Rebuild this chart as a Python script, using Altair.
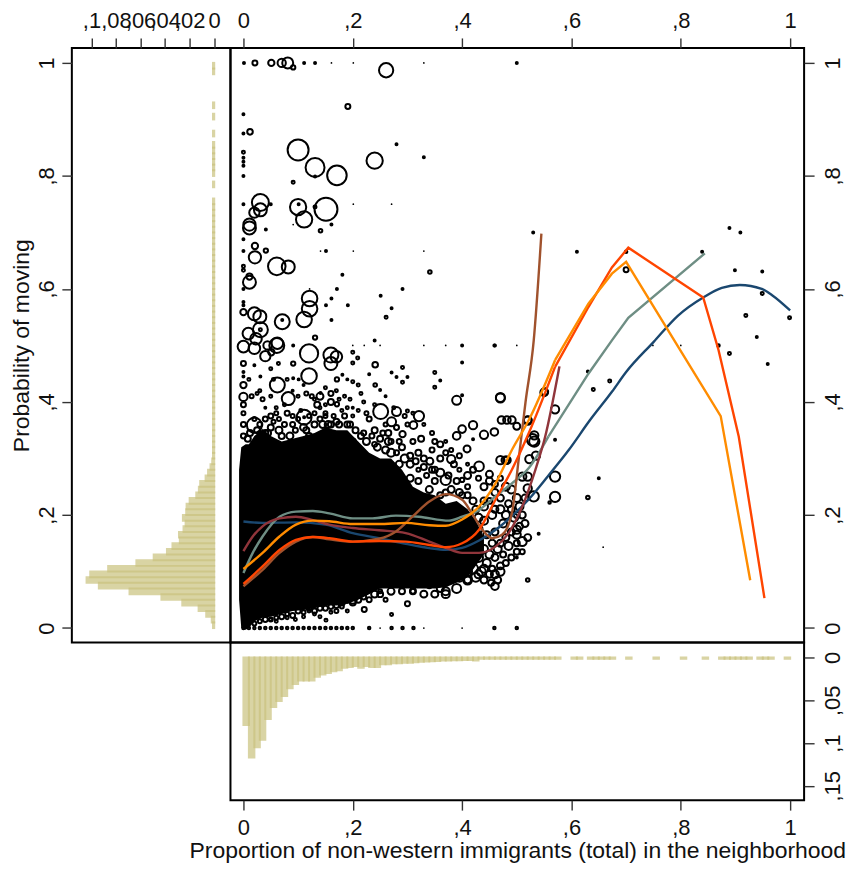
import altair as alt
import pandas as pd

# --- dense cloud envelope: x, low, high
cloud = [(-.008,.05,.28),(-.004,.0,.32),(.004,-.003,.325),(.01,.0,.325),(.02,.012,.34),(.035,.018,.352),
(.05,.02,.34),(.07,.025,.33),(.09,.03,.335),(.11,.032,.34),(.13,.035,.345),(.15,.04,.355),(.17,.04,.35),
(.19,.043,.35),(.21,.05,.33),(.23,.06,.31),(.25,.07,.30),(.27,.07,.30),(.29,.07,.28),(.31,.07,.25),
(.33,.07,.24),(.35,.07,.235),(.37,.072,.22),(.39,.08,.225),(.41,.09,.21),(.425,.11,.19),(.44,.13,.16)]

# --- individual neighbourhoods: x, y, marker diameter
top_rows = [(.001,1,2),(.021,1,5),(.051,1,6.3),(.070,1,8.3),(.081,1,11),(.091,.992,4.3),(.111,1,2),(.131,1,2),
(.261,.987,14.3),(.191,.923,5),(0,.909,2),(.012,.878,5.6),(0,.875,2),(.280,.856,2),(0,.842,3),(0,.832,2),(0,.825,2),
(0,.818,2),(.100,.846,21),(.131,.815,19),(.171,.801,19.6),(.240,.827,16.3),(.330,.833,2),(.5,1,2),(0,.800,2),
(.091,.789,3),(.131,.799,2),(0,.750,2),(.031,.753,17),(.050,.750,2),(.031,.740,13),(.020,.735,10.3),(.100,.745,16.3),
(.101,.750,2),(.131,.745,3),(.151,.741,23),(.111,.723,16.3),(.011,.714,12.3),(.011,.708,13),(.041,.705,2),(.161,.714,2),
(.141,.703,3.6),(0,.688,2),(.021,.676,6.3),(.041,.668,4.3),(0,.667,2),(.151,.667,2),(.021,.656,12.3),(.061,.640,17.6),
(.082,.639,13),(0,.640,3),(0,.633,3),(.341,.630,3.6),(.181,.625,2),(.011,.622,6.3),(.011,.612,13),(0,.600,2),(.171,.600,2),
(.291,.600,2),(.251,.588,2),(.161,.583,2),(.121,.583,15.6),(.121,.565,15.6),(.111,.546,15.6),(.151,.571,2),(.191,.571,2),
(.271,.566,2),(.261,.550,3),(.161,.545,2),(.071,.542,15),(.071,.545,2),(0,.577,2),(0,.571,2),(0,.559,6.3),(.020,.556,13),
(.030,.551,13),(.031,.528,15),(.031,.528,3),(.009,.521,11.6),(.023,.512,11.6),(.044,.5,8.3),(.061,.5,15),(.131,.514,4.3),(.240,.509,2)]

mid_rows = [(0,.498,11.6),(.02,.495,11.6),(.04,.481,10.3),(.051,.488,6.3),(.062,.504,11.6),(.064,.468,3),(.12,.486,18.3),
(.16,.483,15),(.17,.48,11.6),(.16,.468,13),(.2,.488,3),(.209,.478,3),(.2,.469,3),(.241,.466,5.6),(.291,.461,3),
(.35,.452,3),(.271,.452,2),(.28,.444,2),(.3,.444,2),(.291,.435,3),(.23,.449,2),(.35,.426,3),(.36,.438,2),(.241,.43,3.6),
(.25,.421,2),(.4,.47,2),(.12,.446,15.6),(.091,.468,4.3),(.031,.445,2),(.02,.465,2),(.05,.459,3),(.062,.43,15),(.082,.406,13),
(.11,.43,2),(.091,.442,2),(.101,.44,2),(.171,.44,4.3),(.181,.448,2),(.19,.44,2),(.2,.436,3),(.21,.43,3),(.15,.425,3),
(.141,.416,2),(0,.468,5),(0,.453,2),(0,.445,2),(0,.43,6.3),(0,.409,8.3),(.02,.359,15),(.111,.373,15),(.111,.373,2),
(.251,.383,15),(.271,.365,9),(.28,.383,9),(.321,.375,10.3),(.311,.359,7.6),(.291,.343,6.3),(.3,.384,3),(.22,.4,3),(.2,.39,2),
(.171,.396,4.3),(.39,.403,9),(.47,.407,9),(.4,.412,2),(.551,.418,7),(.42,.359,8.3),(.4,.352,7.6),(.39,.34,7.6),(.44,.342,8.3),
(.459,.347,7.6),(.472,.368,7.6),(.482,.368,7.6),(.491,.368,7.6),(.5,.357,7),(.52,.368,7.6),(.42,.334,2),(.409,.317,7),
(.529,.333,11.6),(.431,.286,9.6),(.45,.272,7),(.47,.297,8.3),(.482,.297,7.6),(.4,.262,4.3),(.37,.262,10.3),(.38,.299,8.3),
(.341,.295,7),(.09,.42,2),(.13,.405,3),(.14,.41,7),(.16,.4,6),(.175,.405,3),(.075,.395,3),(.06,.39,3),(.04,.39,2),(.025,.415,3),
(.065,.37,4),(.09,.375,4),(.105,.385,3),(.14,.39,3),(.15,.375,4),(.18,.385,3),(.2,.375,3),(.23,.37,5),(.21,.385,3),(.24,.35,6),
(.26,.36,4),(.3,.36,4),(.29,.32,6),(.31,.33,5),(.32,.31,6),(.33,.3,6),(.36,.3,6),(.345,.315,5),(.37,.33,3),(.38,.315,4),(.27,.33,5),
(.25,.335,6),(.24,.325,5),(.305,.305,6),(.28,.31,5),(.35,.28,6),(.335,.27,5),(.32,.28,4),(.39,.26,6),(.41,.25,5),(.44,.25,7),(.46,.24,7),
(.48,.25,8),(.35,.26,6),(.37,.24,6),(.4,.235,6),(.42,.225,7),(.44,.225,7)]

upper_scatter = [(.01,.44,3),(.015,.41,4),(.03,.42,3),(.035,.405,4),(.05,.41,3),(.055,.44,3),(.08,.44,3),(.1,.41,3),(.115,.415,4),(.125,.41,4),
(.135,.395,6),(.15,.395,3),(.16,.415,5),(.17,.42,3),(.185,.41,3),(.195,.405,3),(.215,.415,3),(.225,.38,4),(.24,.395,3),(.26,.41,2),(.275,.39,3),
(.28,.355,5),(.265,.345,6),(.295,.375,4),(.31,.38,3),(.33,.36,3),(.345,.345,4),(.325,.335,6),(.35,.33,5),(.36,.325,6),(.37,.31,5),(.385,.29,6),
(.395,.305,5),(.41,.29,3),(.42,.28,6),(.395,.28,4),(.41,.27,7),(.43,.265,5),(.45,.26,7),(.46,.255,6),(.47,.265,5),(.05,.375,5),(.08,.38,5),
(.12,.375,4),(.16,.36,6),(.13,.38,4),(.19,.39,3),(.04,.345,6),(.055,.365,4)]

right_cluster = [(.44,.215,8),(.45,.225,6),(.46,.21,7),(.48,.2,8),(.49,.21,7),(.5,.2,6),(.515,.23,7),(.515,.185,7),(.52,.16,7),(.5,.165,8),(.48,.16,7),
(.465,.14,8),(.45,.13,8),(.5,.135,6),(.47,.11,7),(.455,.105,6),(.44,.105,8),(.425,.09,9),(.41,.1,9),(.48,.115,6),(.46,.095,8)]

edge_top = [(0,.34,5),(0,.36,5),(0,.38,4),(0,.395,5),(.012,.345,6),(.02,.37,4),(.03,.36,5),(.04,.37,5),(.05,.355,6),(.06,.38,4),
(.065,.35,7),(.075,.36,5),(.085,.34,7),(.095,.35,5),(.10,.37,4),(.11,.355,7),(.12,.34,6),(.13,.36,6),(.14,.37,5),(.15,.38,4),
(.155,.36,7),(.165,.375,4),(.175,.36,6),(.185,.375,5),(.195,.36,6),(.205,.35,6),(.2,.33,6),(.215,.34,6),(.225,.33,7),(.235,.34,5),
(.245,.32,7),(.255,.345,5),(.265,.33,7),(.27,.31,8),(.285,.33,5),(.295,.3,8),(.305,.29,7),(.315,.295,6),(.33,.285,6),(.345,.28,6),
(.36,.275,8),(.375,.27,6),(.305,.265,7),(.32,.26,6),(.34,.245,7),(.36,.235,6),(.38,.245,7),(.395,.24,7),(.41,.235,6),(.425,.21,7),(.43,.195,8),
(.008,.335,6),(.025,.35,6),(.045,.345,6),(.07,.34,6),(.09,.36,5),(.115,.35,6),(.145,.36,7),(.17,.365,6),(.19,.36,6),(.22,.345,5),(.26,.315,7),(.285,.29,7)]

edge_bottom = [(.02,.008,4),(.03,.012,4),(.04,.015,5),(.05,.015,4),(.06,.018,4),(.07,.02,5),(.08,.025,4),(.09,.022,5),(.1,.03,5),(.11,.028,4),
(.12,.035,5),(.13,.03,5),(.14,.035,5),(.15,.035,5),(.16,.038,5),(.17,.04,5),(.18,.045,6),(.19,.05,6),(.2,.045,6),(.21,.05,6),(.22,.055,5),
(.23,.05,5),(.24,.06,7),(.25,.06,6),(.27,.065,7),(.29,.065,6),(.31,.065,6),(.33,.06,7),(.35,.06,7),(.37,.065,8),(.39,.07,9),(.41,.085,9),(.43,.095,8)]

right_rows = [(.530,.700,2),(.61,.666,2),(.7,.666,2.5),(.7,.634,5),(.839,.666,2),(.889,.708,2),(.909,.7,2),(.899,.633,2),(.949,.631,2),
(.949,.592,3),(.919,.553,3),(.999,.549,3),(.939,.515,2),(.869,.5,2.5),(.889,.486,3),(.959,.467,2),(.46,.5,2),(.63,.454,2),(.67,.437,3),
(.64,.422,3),(.47,.408,9),(.55,.417,7.6),(.57,.387,8.3),(.57,.333,2),(.57,.268,10.3),(.57,.232,10.3),(.63,.231,3.6),(.65,.265,2),
(.56,.222,2.5),(.54,.167,2),(.51,.153,9),(.5,.174,8.3),(.5,.125,2),(.52,.085,3.6),(.47,.1,8.3),(.46,.074,7.6),(.531,.233,10.3),
(.523,.299,8.3),(.535,.305,8.3),(.532,.341,8.3),(.532,.33,10.3),(.52,.367,8.3),(.52,.268,8.3),(.52,.247,8.3),(.51,.268,8.3),
(.479,.297,7.6),(.49,.245,8),(.5,.23,8),(.505,.215,8),(.47,.23,7),(.455,.2,8),(.47,.21,8),(.485,.22,7),(.495,.195,8),(.51,.2,7),
(.44,.19,8),(.46,.17,7),(.475,.185,8),(.49,.17,7),(.505,.18,7),(.445,.165,7),(.43,.175,8),(.44,.14,8),(.455,.15,7),(.47,.15,7),(.485,.145,8),
(.5,.15,6),(.43,.125,9),(.445,.115,8),(.46,.125,7),(.475,.13,6),(.49,.125,6),(.42,.105,10),(.435,.1,9),(.45,.095,7),(.465,.085,7),
(.395,.09,9),(.41,.085,7),(.38,.095,8),(.44,.085,7),(.453,.08,6),(.51,.135,5),(.36,.07,7),(.34,.075,5),(.37,.06,8),(.31,.065,5),(.3,.043,5),
(.271,.024,3),(.221,.033,5),(.2,.05,8),(.151,.014,3),(.14,.02,3),(.17,.03,4),(.16,.028,3),(.13,.025,3),(.11,.02,3),(.095,.015,3),(.08,.018,3),
(.25,.065,4),(.26,.05,4),(.24,.07,3),(.19,.03,3),(.18,.038,4),(.12,.03,3),(.06,.012,3),(.05,.015,3)]

bottom_row = [.0,.01,.02,.03,.04,.05,.06,.07,.08,.09,.10,.11,.12,.13,.14,.15,.16,.17,.18,.19,.20,.23,.271,.291,.311,.459,.5]
row_05 = [.091,.4,.459]
tiny_pts = [(.161,1),(.201,1),(.330,1),(.201,.75),(.271,.75),(.091,.714),(.141,.667),(.201,.667),(.330,.667),(.5,.5),(.749,.5),(.8,.5),
(.658,.143),(.25,0),(.33,0),(.4,0),(.2,.5),(.221,.5),(.25,.5),(.33,.5),(.37,.5),(.121,.6)]

# --- fitted curves: smooth part, then the sparse part that joins single observations
navy = [(0,.1886),(.035,.186),(.096,.187),(.15,.183),(.2,.168),(.248,.159),(.297,.149),(.34,.1415),(.37,.1385),(.4,.142),(.431,.155),(.467,.178),(.491,.198),(.522,.228),(.558,.27),(.595,.315),(.634,.368),(.674,.418),(.7,.453),(.75,.506),(.795,.553),(.841,.585),(.875,.602),(.908,.607),(.948,.6),(.967,.589),(1.0,.562)]
teal = [(0,.0974),(.017,.133),(.035,.162),(.066,.197),(.096,.206),(.127,.207),(.157,.203),(.2,.194),(.236,.194),(.279,.199),(.321,.197),(.376,.19),(.4,.197),(.431,.209),(.461,.233),(.491,.256),(.522,.283),(.558,.339)]
teal_far = [(.558,.339),(.631,.45),(.674,.509),(.704,.549),(.844,.663)]
maroon = [(0,.136),(.017,.162),(.035,.18),(.066,.194),(.096,.197),(.127,.191),(.157,.183),(.2,.177),(.248,.173),(.297,.168),(.34,.153),(.37,.142),(.4,.133),(.431,.133),(.461,.144),(.485,.168),(.51,.215),(.534,.28),(.552,.339),(.578,.463)]
sienna = [(0,.074),(.035,.103),(.066,.133),(.096,.153),(.127,.161),(.157,.157),(.2,.153),(.248,.158),(.279,.171),(.309,.197),(.34,.224),(.37,.237),(.4,.227),(.418,.203),(.437,.174),(.455,.159),(.473,.165),(.491,.203),(.504,.303),(.516,.4),(.531,.509),(.545,.698)]
orangered = [(0,.078),(.035,.109),(.066,.138),(.096,.156),(.127,.161),(.157,.159),(.2,.153),(.248,.154),(.297,.153),(.34,.147),(.37,.143),(.4,.15),(.431,.174),(.461,.227),(.491,.28),(.522,.345),(.57,.462)]
orangered_far = [(.57,.462),(.631,.568),(.674,.638),(.704,.673),(.841,.585),(.869,.492),(.906,.339),(.953,.053)]
orange = [(0,.1045),(.035,.133),(.066,.162),(.096,.183),(.127,.19),(.157,.189),(.2,.184),(.248,.184),(.297,.186),(.34,.182),(.37,.181),(.4,.192),(.431,.215),(.461,.256),(.491,.315),(.522,.368),(.57,.474)]
orange_far = [(.57,.474),(.631,.574),(.674,.627),(.7,.648),(.873,.375),(.927,.0845)]

# --- marginal histograms: bin start, density
left_low = [0,.01,.02,.03,.04,.05,.06,.07,.08,.09,.10,.11,.12,.13,.14,.15,.16,.17,.18,.19,.20,.21,.22,.23,.24,.25,.26,.27,.28,.29,.30,.31]
left_freq = [.001,.002,.0065,.0127,.026,.043,.069,.094,.104,.101,.0864,.0634,.0493,.0385,.034,.028,.0287,.025,.0233,.0255,.0228,.0225,.02,.0146,.0125,.0114,.007,.005,.003,.0016,.001,.001]
left_thin = [.32,.33,.34,.35,.36,.37,.38,.39,.40,.41,.42,.43,.44,.45,.46,.47,.48,.49,.50,.51,.52,.53,.54,.55,.56,.57,.58,.59,.60,.61,.62,.63,.64,.65,.66,.67,.68,.69,.70,.71,.72,.73,.74,.75,.78,.80,.81,.82,.83,.84,.85,.87,.90,.92,.98,.99]
bot_low = [0,.01,.02,.03,.04,.05,.06,.07,.08,.09,.10,.11,.12,.13,.14,.15,.16,.17,.18,.19,.20,.21,.22,.23,.24,.25,.26,.27,.28,.29,.30,.31,.32,.33,.34,.35,.36,.37,.38,.39,.40,.41,.42]
bot_freq = [.079,.117,.105,.096,.072,.058,.051,.045,.036,.031,.027,.027,.027,.0225,.020,.018,.016,.015,.012,.011,.010,.012,.010,.011,.011,.008,.008,.0066,.0066,.0062,.0062,.0055,.005,.0047,.0043,.004,.0035,.0035,.0033,.0033,.003,.003,.0035]
bot_thin = [.43,.44,.45,.46,.47,.48,.49,.50,.51,.52,.53,.54,.55,.56,.57,.60,.61,.63,.64,.65,.66,.67,.70,.75,.80,.84,.87,.88,.89,.90,.91,.92,.94,.95,.96,.99]

XD = [-.02372, 1.02555]
YD = [-.0256, 1.0265]
FONT = "Liberation Sans"
KHAKI = "#cac27e"
comma = "replace(toString(datum.value), '0.', ',')"

def ax(**k):
    base = dict(labelExpr=comma, labelFont=FONT, labelFontSize=22, labelColor="#111111", tickSize=10, tickWidth=1.4,
                tickColor="#333333", grid=False, domain=False, labelPadding=5, labelFlush=False, labelOverlap=False)
    base.update(k)
    return alt.Axis(**base)

yt = [0, .2, .4, .6, .8, 1]
sx = alt.Scale(domain=XD, nice=False, zero=False)
sy = alt.Scale(domain=YD, nice=False, zero=False)

# main panel
pts = pd.DataFrame(top_rows + mid_rows + upper_scatter + right_cluster + edge_top + edge_bottom + right_rows +
                   [(v, 0, 2.5) for v in bottom_row] + [(v, .5, 2) for v in row_05], columns=["x", "y", "d"])
pts["size"] = pts.d ** 2
tiny = pd.DataFrame(tiny_pts, columns=["x", "y"])
cl = pd.DataFrame(cloud, columns=["x", "lo", "hi"])

area = alt.Chart(cl).mark_area(color="black", interpolate="linear").encode(
    x=alt.X("x:Q", scale=sx, axis=ax(orient="top", values=yt, title=None)),
    y=alt.Y("lo:Q", scale=sy, axis=ax(orient="right", values=yt, title=None, labelAngle=270, labelAlign="center", labelBaseline="top", labelPadding=8)),
    y2="hi:Q")
rings = alt.Chart(pts).mark_point(shape="circle", filled=False, stroke="black", strokeWidth=2, opacity=1).encode(
    x=alt.X("x:Q", scale=sx), y=alt.Y("y:Q", scale=sy), size=alt.Size("size:Q", scale=None))
specks = alt.Chart(tiny).mark_point(shape="circle", filled=True, color="black", size=3, opacity=1).encode(
    x=alt.X("x:Q", scale=sx), y=alt.Y("y:Q", scale=sy))

def curve(vals, col, interp="monotone", w=2.4):
    df = pd.DataFrame(vals, columns=["x", "y"])
    return alt.Chart(df).mark_line(color=col, strokeWidth=w, interpolate=interp).encode(
        x=alt.X("x:Q", scale=sx), y=alt.Y("y:Q", scale=sy), order="x:Q")

main = alt.layer(area, rings, specks,
                 curve(navy, "#1a476f"), curve(teal, "#6e8e84"), curve(teal_far, "#6e8e84", "linear"),
                 curve(maroon, "#90353b"), curve(sienna, "#a0522d"),
                 curve(orangered, "#ff4500"), curve(orangered_far, "#ff4500", "linear"),
                 curve(orange, "#ff8c00"), curve(orange_far, "#ff8c00", "linear")
                 ).properties(width=575, height=596)

# left marginal
l = pd.DataFrame({"low": left_low + left_thin, "f": left_freq + [.001] * len(left_thin)})
l["high"] = l.low + .01
l["z"] = 0.0
left = alt.Chart(l).mark_rect(fill=KHAKI, stroke=KHAKI, strokeWidth=2, opacity=.7).encode(
    x=alt.X("f:Q", scale=alt.Scale(domain=[-.01325, .116], reverse=True, nice=False, zero=False),
            axis=ax(orient="top", values=[0, .02, .04, .06, .08, .1], title=None)),
    x2="z:Q",
    y=alt.Y("low:Q", scale=sy, axis=ax(orient="left", values=yt, title="Probability of moving", titleFont=FONT, titleFontSize=23,
            titleFontWeight="normal", titleColor="#111111", titlePadding=2, labelAngle=270, labelAlign="center", labelBaseline="bottom", labelPadding=3)),
    y2="high:Q").properties(width=159, height=596)

# bottom marginal
b = pd.DataFrame({"low": bot_low + bot_thin, "f": bot_freq + [.0015] * len(bot_thin)})
b["high"] = b.low + .01
b["z"] = 0.0
bottom = alt.Chart(b).mark_rect(fill=KHAKI, stroke=KHAKI, strokeWidth=2, opacity=.7).encode(
    x=alt.X("low:Q", scale=sx, axis=ax(orient="bottom", values=yt, labelPadding=7, title="Proportion of non-western immigrants (total) in the neighborhood",
            titleFont=FONT, titleFontSize=23, titleFontWeight="normal", titleColor="#111111", titlePadding=2)),
    x2="high:Q",
    y=alt.Y("f:Q", scale=alt.Scale(domain=[-.0175, .1667], reverse=True, nice=False, zero=False),
            axis=ax(orient="right", values=[0, .05, .1, .15], title=None, labelAngle=270, labelAlign="center", labelBaseline="top", labelPadding=8)),
    y2="z:Q").properties(width=575, height=158)

right_col = alt.vconcat(main, bottom, spacing=0, bounds="flush")
chart = alt.hconcat(left, right_col, spacing=0, bounds="flush").resolve_scale(x="independent", y="independent").properties(
    padding={"left": 2, "top": 0, "right": 0, "bottom": -2}, background="white"
).configure_view(stroke="black", strokeWidth=2, continuousWidth=300)

chart.save("out.html", embed_options={"renderer": "svg", "actions": False})
